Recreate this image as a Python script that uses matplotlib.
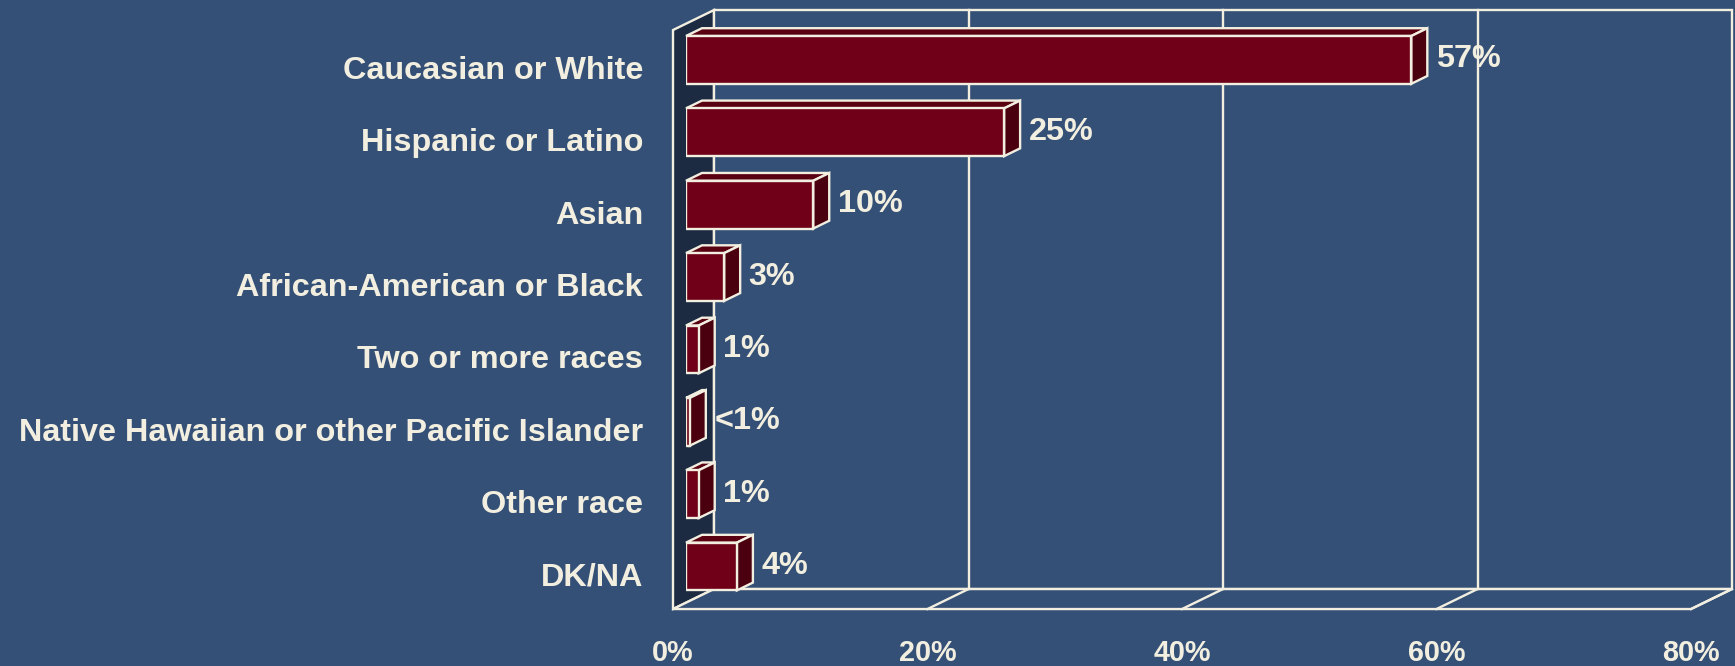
import matplotlib
matplotlib.use("Agg")
import matplotlib.pyplot as plt
from matplotlib.patches import Polygon

# Survey data
categories = [
    "Caucasian or White",
    "Hispanic or Latino",
    "Asian",
    "African-American or Black",
    "Two or more races",
    "Native Hawaiian or other Pacific Islander",
    "Other race",
    "DK/NA",
]
values = [57, 25, 10, 3, 1, 0.3, 1, 4]
value_labels = ["57%", "25%", "10%", "3%", "1%", "<1%", "1%", "4%"]
x_ticks = [0, 20, 40, 60, 80]
x_tick_labels = ["0%", "20%", "40%", "60%", "80%"]

# Colours
BG = "#355076"
WALL = "#1c2a42"
LINE = "#f2efe1"
BAR_FRONT = "#6f0017"
BAR_TOP = "#590011"
BAR_SIDE = "#4a000f"
FONT = "Liberation Sans"

W, H = 1735, 666
fig = plt.figure(figsize=(W / 100, H / 100), dpi=100, facecolor=BG)

# axes sit in the plane of the bars' front faces
ax_l, ax_r, ax_b, ax_t = 686, 1704, 602.7, 23.7
ax = fig.add_axes([ax_l / W, (H - ax_b) / H, (ax_r - ax_l) / W, (ax_b - ax_t) / H])
ax.set_facecolor(BG)
n = len(categories)
ax.set_xlim(0, 80)
ax.set_ylim(n - 0.5, -0.5)
ax.axis("off")

# 3d depth: pixel shift from the front edge of the floor to the back wall
DEPTH_PX = (41, 20)
bar_plane = 0.317   # where the bar fronts sit, as a fraction of depth
bar_depth = 0.39
ux = (ax_r - ax_l) / 80
uy = (ax_b - ax_t) / n


def offset(frac):
    return frac * DEPTH_PX[0] / ux, -frac * DEPTH_PX[1] / uy


fx, fy = offset(-bar_plane)
bx, by = offset(1 - bar_plane)
y_floor, y_top = n - 0.5, -0.5
lw = 1.7
kw = dict(edgecolor=LINE, linewidth=lw, clip_on=False, joinstyle="miter")

# left wall, back wall and floor
ax.add_patch(Polygon([(fx, y_floor + fy), (fx, y_top + fy), (bx, y_top + by),
                      (bx, y_floor + by)], facecolor=WALL, zorder=1, **kw))
ax.add_patch(Polygon([(bx, y_top + by), (80 + bx, y_top + by),
                      (80 + bx, y_floor + by), (bx, y_floor + by)],
                     facecolor=BG, zorder=1, **kw))
ax.add_patch(Polygon([(fx, y_floor + fy), (80 + fx, y_floor + fy),
                      (80 + bx, y_floor + by), (bx, y_floor + by)],
                     facecolor=BG, zorder=1, **kw))
for t in x_ticks[1:-1]:
    ax.plot([t + bx, t + bx], [y_top + by, y_floor + by], color=LINE, lw=lw,
            clip_on=False, zorder=2)
for t in x_ticks[1:]:
    ax.plot([t + fx, t + bx], [y_floor + fy, y_floor + by], color=LINE, lw=lw,
            clip_on=False, zorder=2)

# bars
h = 0.66
dx, dy = offset(bar_depth)
ys = list(range(n))
ax.barh(ys, values, height=h, left=0, color=BAR_FRONT, edgecolor=LINE,
        linewidth=lw, zorder=4)
for y, v in zip(ys, values):
    top = y - h / 2
    bot = y + h / 2
    ax.add_patch(Polygon([(0, top), (v, top), (v + dx, top + dy), (dx, top + dy)],
                         facecolor=BAR_TOP, zorder=3, **kw))
    ax.add_patch(Polygon([(v, top), (v, bot), (v + dx, bot + dy), (v + dx, top + dy)],
                         facecolor=BAR_SIDE, zorder=3, **kw))

# value labels
for y, v, lab in zip(ys, values, value_labels):
    ax.annotate(lab, xy=(v + dx, y + dy / 2), xytext=(6, -2.5),
                textcoords="offset points", ha="left", va="center",
                fontsize=23.3, fontweight="bold", family=FONT, color=LINE,
                zorder=6, annotation_clip=False)

# category labels
for y, cat in zip(ys, categories):
    ax.annotate(cat, xy=(0, y), xycoords=("axes fraction", "data"),
                xytext=(-31, -8), textcoords="offset points",
                ha="right", va="center", fontsize=23.3, fontweight="bold",
                family=FONT, color=LINE, annotation_clip=False)

# percentage axis along the front of the floor
for t, lab in zip(x_ticks, x_tick_labels):
    ax.annotate(lab, xy=(t + fx, y_floor + fy), xytext=(0, -31.5),
                textcoords="offset points", ha="center", va="center",
                fontsize=20.7, fontweight="bold", family=FONT, color=LINE,
                annotation_clip=False)

fig.savefig("out.png", dpi=100, facecolor=BG)
